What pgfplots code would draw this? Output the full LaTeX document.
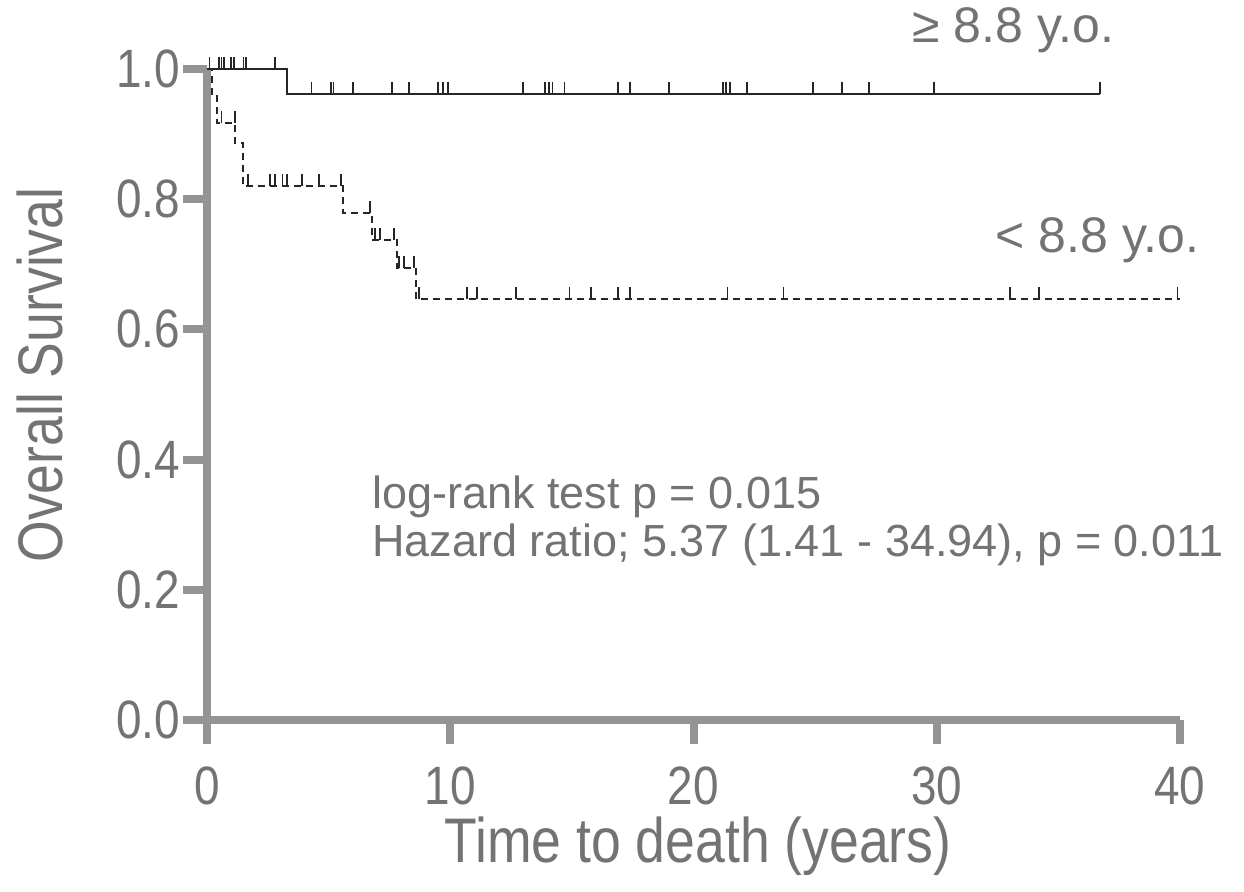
\documentclass[border=0pt]{standalone}
\usepackage{fontspec}
\setmainfont{Liberation Sans}[FakeStretch=0.85]
\newfontfamily\widefont{Liberation Sans}
\usepackage{pgfplots}
\pgfplotsset{compat=1.18}

% censoring tick: short vertical stroke pointing up
\pgfdeclareplotmark{cens}{%
  \pgfpathmoveto{\pgfpointorigin}%
  \pgfpathlineto{\pgfqpoint{0pt}{\pgfplotmarksize}}%
  \pgfusepathqstroke}

\definecolor{axgray}{gray}{0.58}
\definecolor{txtgray}{gray}{0.45}
\definecolor{curve}{gray}{0.15}

\begin{document}
\begin{tikzpicture}
\begin{axis}[
  at={(0,0)}, anchor=south west,
  scale only axis, width=486.5pt, height=325.5pt,
  xmin=0, xmax=40, ymin=0, ymax=1,
  axis lines=left,
  axis line style={-, line width=4pt, axgray},
  tick style={line width=4pt, axgray},
  tick align=outside, major tick length=12pt,
  xtick={0,10,20,30,40}, ytick={0,0.2,0.4,0.6,0.8,1},
  /pgf/number format/assume math mode=true,
  ticklabel style={font=\fontsize{27}{27}\selectfont, text=txtgray},
  yticklabel style={/pgf/number format/fixed, /pgf/number format/fixed zerofill,
    /pgf/number format/precision=1, xshift=2pt},
  xticklabel style={yshift=-8pt},
  clip=false,
]

% >= 8.8 y.o. (solid)
\addplot[const plot, curve, line width=1pt] coordinates {
  (0,1) (3.3,0.962) (36.7,0.962)
};
\addplot[only marks, mark=cens, mark size=6pt, mark options={curve, line width=0.9pt}] coordinates {
  (0.1,1) (0.5,1) (0.6,1) (0.7,1) (1.0,1) (1.1,1) (1.5,1) (1.6,1) (2.8,1)
  (4.3,0.962) (5.1,0.962) (5.2,0.962) (6.0,0.962) (7.6,0.962) (8.3,0.962)
  (9.5,0.962) (9.7,0.962) (9.9,0.962) (13.0,0.962) (13.9,0.962) (14.05,0.962)
  (14.2,0.962) (14.7,0.962) (16.9,0.962) (17.4,0.962) (19.0,0.962)
  (21.2,0.962) (21.35,0.962) (21.5,0.962) (22.2,0.962) (24.9,0.962)
  (26.1,0.962) (27.2,0.962) (29.9,0.962) (36.7,0.962)
};

% < 8.8 y.o. (dashed)
\addplot[const plot, curve, line width=1pt, dash pattern=on 3.5pt off 2.5pt] coordinates {
  (0,1) (0.2,0.958) (0.4,0.917) (1.15,0.887) (1.5,0.82) (5.6,0.779)
  (6.8,0.738) (7.8,0.695) (8.6,0.646) (40,0.646)
};
\addplot[only marks, mark=cens, mark size=6pt, mark options={curve, line width=0.9pt}] coordinates {
  (0.6,0.917) (1.15,0.917)
  (1.7,0.82) (2.6,0.82) (2.8,0.82) (3.1,0.82) (3.3,0.82) (3.9,0.82) (4.6,0.82) (5.5,0.82)
  (6.7,0.779) (6.9,0.738) (7.1,0.738) (7.7,0.738)
  (7.9,0.695) (8.1,0.695) (8.5,0.695)
  (8.7,0.646) (10.7,0.646) (11.1,0.646) (12.7,0.646) (14.9,0.646) (15.8,0.646)
  (16.9,0.646) (17.4,0.646) (21.4,0.646) (23.7,0.646) (33.0,0.646) (34.2,0.646)
  (39.9,0.646)
};

\node[anchor=east, inner sep=0pt, text=txtgray, font=\widefont\fontsize{25}{25}\selectfont]
  at (axis cs:37.3,1.06) {≥ 8.8 y.o.};
\node[anchor=east, inner sep=0pt, text=txtgray, font=\widefont\fontsize{25}{25}\selectfont]
  at (axis cs:40.8,0.737) {< 8.8 y.o.};
\node[anchor=west, inner sep=0pt, align=left, text=txtgray, font=\widefont\fontsize{22.5}{24}\selectfont]
  at (axis cs:6.78,0.3057) {log-rank test p = 0.015\\Hazard ratio; 5.37 (1.41 - 34.94), p = 0.011};
\end{axis}

\node[text=txtgray, font=\fontsize{31.5}{31.5}\selectfont] at (245.5pt,-63pt) {Time to death (years)};
\node[text=txtgray, rotate=90, font=\fontsize{31.5}{31.5}\selectfont] at (-83.5pt,172.5pt) {Overall Survival};

\pgfresetboundingbox
\path (-103.5pt,-86pt) rectangle (518.5pt,360pt);
\end{tikzpicture}
\end{document}
